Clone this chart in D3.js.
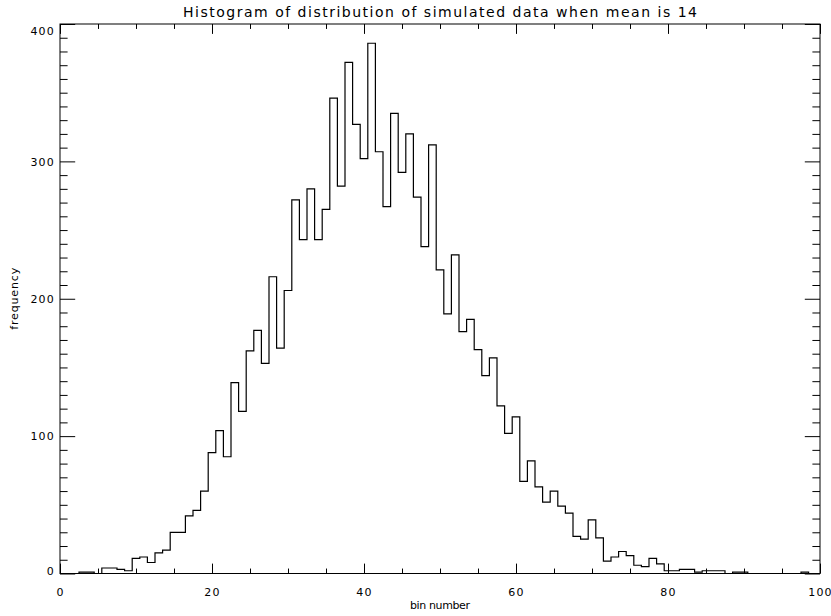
<!DOCTYPE html>
<html>
<head>
<meta charset="utf-8">
<script src="https://cdn.jsdelivr.net/npm/d3@7"></script>
<style>
  body { margin: 0; background: #fff; }
  svg { display: block; }
  text { font-family: "DejaVu Sans", sans-serif; fill: #000; }
</style>
</head>
<body>
<svg id="chart" width="831" height="616"></svg>
<script>
// bin centres 0..99 and their counts
const bins = d3.range(0, 100);
const counts = [
  0, 0, 0, 1, 1, 0, 4, 4, 3, 2,
  11, 12, 8, 15, 17, 30, 30, 42, 46, 60,
  88, 104, 85, 139, 118, 162, 177, 153, 216, 164,
  206, 272, 243, 280, 243, 265, 346, 282, 372, 327,
  302, 386, 307, 267, 335, 292, 320, 274, 238, 312,
  221, 189, 232, 176, 185, 163, 144, 157, 122, 102,
  114, 67, 82, 63, 52, 60, 49, 44, 27, 25,
  39, 26, 9, 12, 16, 13, 6, 5, 11, 7,
  2, 2, 3, 3, 1, 2, 2, 2, 0, 1,
  1, 0, 0, 0, 0, 0, 0, 0, 1, 0
];
const xMajor = [0, 20, 40, 60, 80, 100];
const yMajor = [0, 100, 200, 300, 400];
const title = "Histogram of distribution of simulated data when mean is 14";

const svg = d3.select("#chart");
const margin = { top: 24, right: 11, bottom: 42.5, left: 60 };
const W = 831, H = 616;

const x = d3.scaleLinear().domain([0, 100]).range([margin.left, W - margin.right]);
const y = d3.scaleLinear().domain([0, 400]).range([H - margin.bottom, margin.top]);

const plotW = x.range()[1] - x.range()[0];
const plotH = y.range()[0] - y.range()[1];
// IDL style: tick length is 2% of the other dimension, minor ticks half
const xTickLen = plotH * 0.018, yTickLen = plotW * 0.02;

const xMinor = d3.range(0, 101, 5).filter(d => d % 20 !== 0);
const yMinor = d3.range(0, 401, 10).filter(d => d % 100 !== 0);

function styleAxis(g) {
  g.select(".domain").remove();
  g.selectAll("line").attr("stroke", "#000").attr("stroke-width", 1);
}

// bottom axis with labels
svg.append("g")
  .attr("transform", `translate(0,${y(0)})`)
  .call(d3.axisBottom(x).tickValues(xMajor).tickSize(-xTickLen).tickPadding(xTickLen + 5)
    .tickFormat(d3.format("d")))
  .call(styleAxis)
  .selectAll("text")
  .style("font-size", "11px")
  .style("letter-spacing", "1.2px");

svg.append("g")
  .attr("transform", `translate(0,${y(0)})`)
  .call(d3.axisBottom(x).tickValues(xMinor).tickSize(-xTickLen / 2).tickFormat(""))
  .call(styleAxis);

// top axis, no labels
svg.append("g")
  .attr("transform", `translate(0,${y(400)})`)
  .call(d3.axisTop(x).tickValues(xMajor).tickSize(-xTickLen).tickFormat(""))
  .call(styleAxis);
svg.append("g")
  .attr("transform", `translate(0,${y(400)})`)
  .call(d3.axisTop(x).tickValues(xMinor).tickSize(-xTickLen / 2).tickFormat(""))
  .call(styleAxis);

// left axis with labels
const yl = svg.append("g")
  .attr("transform", `translate(${x(0)},0)`)
  .call(d3.axisLeft(y).tickValues(yMajor).tickSize(-yTickLen).tickPadding(5)
    .tickFormat(d3.format("d")))
  .call(styleAxis);
yl.selectAll("text")
  .style("font-size", "11px")
  .style("letter-spacing", "1.2px")
  .attr("dy", d => d === 400 ? "0.95em" : d === 0 ? "0.05em" : "0.35em");

svg.append("g")
  .attr("transform", `translate(${x(0)},0)`)
  .call(d3.axisLeft(y).tickValues(yMinor).tickSize(-yTickLen / 2).tickFormat(""))
  .call(styleAxis);

// right axis, no labels
svg.append("g")
  .attr("transform", `translate(${x(100)},0)`)
  .call(d3.axisRight(y).tickValues(yMajor).tickSize(-yTickLen).tickFormat(""))
  .call(styleAxis);
svg.append("g")
  .attr("transform", `translate(${x(100)},0)`)
  .call(d3.axisRight(y).tickValues(yMinor).tickSize(-yTickLen / 2).tickFormat(""))
  .call(styleAxis);

// frame
svg.append("rect")
  .attr("x", x(0)).attr("y", y(400))
  .attr("width", plotW).attr("height", plotH)
  .attr("fill", "none").attr("stroke", "#000").attr("stroke-width", 1);

// histogram outline (psym=10 style steps)
const step = d3.line()
  .x((d, i) => x(bins[i]))
  .y(d => y(d))
  .curve(d3.curveStep);

svg.append("path")
  .datum(counts)
  .attr("d", step)
  .attr("fill", "none")
  .attr("stroke", "#000")
  .attr("stroke-width", 1.2);

// title
svg.append("text")
  .attr("x", (x(0) + x(100)) / 2)
  .attr("y", 17)
  .attr("text-anchor", "middle")
  .attr("textLength", 514)
  .attr("lengthAdjust", "spacing")
  .style("font-size", "14px")
  .text(title);

// axis titles
svg.append("text")
  .attr("x", (x(0) + x(100)) / 2)
  .attr("y", 609)
  .attr("text-anchor", "middle")
  .attr("textLength", 60)
  .attr("lengthAdjust", "spacing")
  .style("font-size", "11px")
  .text("bin number");

svg.append("text")
  .attr("transform", `translate(18,${(y(0) + y(400)) / 2}) rotate(-90)`)
  .attr("text-anchor", "middle")
  .attr("textLength", 62)
  .attr("lengthAdjust", "spacing")
  .style("font-size", "11px")
  .text("frequency");
</script>
</body>
</html>
